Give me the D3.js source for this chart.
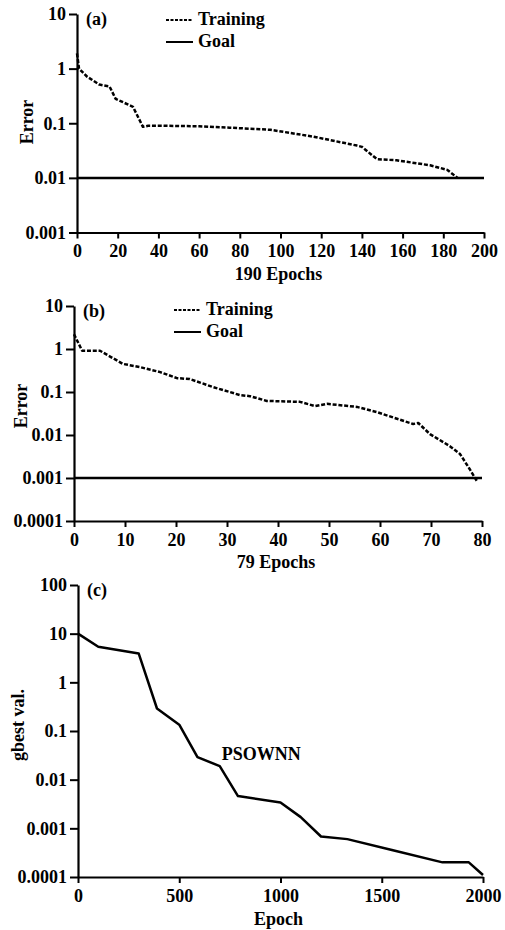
<!DOCTYPE html>
<html>
<head>
<meta charset="utf-8">
<script src="https://cdn.jsdelivr.net/npm/d3@7"></script>
<style>
  body { margin: 0; background: #fff; }
</style>
</head>
<body>
<svg id="chart" width="505" height="930"></svg>
<script>
// Panel (a): training error, 190 epochs
var epochsA = [0, 1, 5, 11, 16, 19, 27.5, 32.4, 35, 41, 60, 75, 95, 116, 137.6, 140, 147.4, 157, 173.5, 182, 187];
var errorA  = [1.9, 1.0, 0.71, 0.51, 0.47, 0.28, 0.20, 0.086, 0.09, 0.09, 0.088, 0.083, 0.076, 0.057, 0.039, 0.037, 0.022, 0.021, 0.017, 0.014, 0.01];
var goalA = 0.01;

// Panel (b): training error, 79 epochs
var epochsB = [0, 1.6, 5.1, 9.6, 12.9, 16.9, 20.2, 22.7, 27.3, 32.5, 34.5, 37.8, 44.3, 47.3, 49.6, 55.5, 59.4, 66.5, 67.5, 69.8, 73.7, 75.7, 77.6, 79];
var errorB  = [2.2, 0.91, 0.91, 0.45, 0.38, 0.29, 0.21, 0.20, 0.13, 0.085, 0.08, 0.062, 0.059, 0.047, 0.053, 0.045, 0.034, 0.018, 0.019, 0.0105, 0.0055, 0.0036, 0.0016, 0.00085];
var goalB = 0.001;

// Panel (c): PSOWNN gbest value
var epochsC = [0, 100, 300, 390, 500, 590, 700, 790, 1000, 1100, 1200, 1330, 1550, 1800, 1930, 2000];
var gbestC  = [10, 5.4, 3.9, 0.29, 0.135, 0.029, 0.019, 0.0046, 0.0034, 0.0017, 0.00068, 0.0006, 0.00036, 0.0002, 0.0002, 0.00011];

// Tick labels
var xTicksA = [0, 20, 40, 60, 80, 100, 120, 140, 160, 180, 200];
var xTicksB = [0, 10, 20, 30, 40, 50, 60, 70, 80];
var xTicksC = [0, 500, 1000, 1500, 2000];
var yTicksA = [10, 1, 0.1, 0.01, 0.001];
var yTicksB = [10, 1, 0.1, 0.01, 0.001, 0.0001];
var yTicksC = [100, 10, 1, 0.1, 0.01, 0.001, 0.0001];

var FONT = "'Liberation Serif', 'Times New Roman', serif";
var svg = d3.select("#chart");

function fmt(v) {
  return String(v);
}

// Serif bold text, like the printed figure
function label(sel, size) {
  return sel.style("font-family", FONT).style("font-weight", "bold")
    .attr("font-size", size || 18).attr("fill", "#000");
}

function drawPanel(p) {
  var x = d3.scaleLinear().domain(p.xDomain).range([p.left, p.right]);
  var y = d3.scaleLog().domain(p.yDomain).range([p.bottom, p.top]);
  var g = svg.append("g");

  // Axes
  var xAxis = g.append("g")
    .attr("transform", "translate(0," + p.bottom + ")")
    .call(d3.axisBottom(x).tickValues(p.xTicks).tickFormat(fmt).tickSizeInner(6).tickSizeOuter(0).tickPadding(6));
  var yAxis = g.append("g")
    .attr("transform", "translate(" + p.left + ",0)")
    .call(d3.axisLeft(y).tickValues(p.yTicks).tickFormat(fmt).tickSizeInner(8).tickSizeOuter(0).tickPadding(3));
  [xAxis, yAxis].forEach(function(a) {
    a.select(".domain").attr("stroke", "#000").attr("stroke-width", 2.2);
    a.selectAll(".tick line").attr("stroke", "#000").attr("stroke-width", 2);
    label(a.selectAll(".tick text"));
  });

  // Goal line
  if (p.goal !== undefined) {
    g.append("line")
      .attr("x1", x(p.xDomain[0])).attr("x2", x(p.xDomain[1]))
      .attr("y1", y(p.goal)).attr("y2", y(p.goal))
      .attr("stroke", "#000").attr("stroke-width", 2.5);
  }

  // Data line
  var line = d3.line()
    .x(function(d) { return x(d[0]); })
    .y(function(d) { return y(d[1]); });
  g.append("path")
    .datum(d3.zip(p.xs, p.ys))
    .attr("d", line)
    .attr("fill", "none")
    .attr("stroke", "#000")
    .attr("stroke-width", 2.5)
    .attr("stroke-linejoin", "round")
    .attr("stroke-dasharray", p.dashed ? "4,1.8" : null);

  // Panel letter
  label(g.append("text").attr("x", p.left + 9).attr("y", p.top + 11)).text(p.letter);

  // Axis titles
  label(g.append("text").attr("x", (p.left + p.right) / 2 - 2).attr("y", p.xTitleY)
    .attr("text-anchor", "middle")).text(p.xTitle);
  label(g.append("text")
    .attr("transform", "translate(" + p.yTitleX + "," + p.yTitleY + ") rotate(-90)")
    .attr("text-anchor", "middle")).text(p.yTitle);

  // Legend
  if (p.legendX !== undefined) {
    var ly = p.legendY;
    g.append("line").attr("x1", p.legendX).attr("x2", p.legendX + 26)
      .attr("y1", ly).attr("y2", ly)
      .attr("stroke", "#000").attr("stroke-width", 2).attr("stroke-dasharray", "3,1.5");
    label(g.append("text").attr("x", p.legendX + 32).attr("y", ly + 5)).text("Training");
    g.append("line").attr("x1", p.legendX).attr("x2", p.legendX + 27)
      .attr("y1", ly + 22).attr("y2", ly + 22)
      .attr("stroke", "#000").attr("stroke-width", 2);
    label(g.append("text").attr("x", p.legendX + 32).attr("y", ly + 27)).text("Goal");
  }
  return { x: x, y: y };
}

drawPanel({
  letter: "(a)", left: 77, right: 484, top: 14, bottom: 232.5,
  xDomain: [0, 200], yDomain: [0.001, 10], xTicks: xTicksA, yTicks: yTicksA,
  xs: epochsA, ys: errorA, dashed: true, goal: goalA,
  xTitle: "190 Epochs", xTitleY: 280, yTitle: "Error", yTitleX: 33, yTitleY: 122,
  legendX: 166, legendY: 20
});

drawPanel({
  letter: "(b)", left: 74, right: 482, top: 306, bottom: 521,
  xDomain: [0, 80], yDomain: [0.0001, 10], xTicks: xTicksB, yTicks: yTicksB,
  xs: epochsB, ys: errorB, dashed: true, goal: goalB,
  xTitle: "79 Epochs", xTitleY: 568, yTitle: "Error", yTitleX: 27, yTitleY: 406,
  legendX: 174, legendY: 310
});

var pc = drawPanel({
  letter: "(c)", left: 78, right: 483, top: 585, bottom: 877,
  xDomain: [0, 2000], yDomain: [0.0001, 100], xTicks: xTicksC, yTicks: yTicksC,
  xs: epochsC, ys: gbestC, dashed: false,
  xTitle: "Epoch", xTitleY: 925, yTitle: "gbest val.", yTitleX: 24, yTitleY: 725
});

// Series label in panel (c)
label(svg.append("text").attr("x", pc.x(710)).attr("y", pc.y(0.018) - 7)).text("PSOWNN");
</script>
</body>
</html>
